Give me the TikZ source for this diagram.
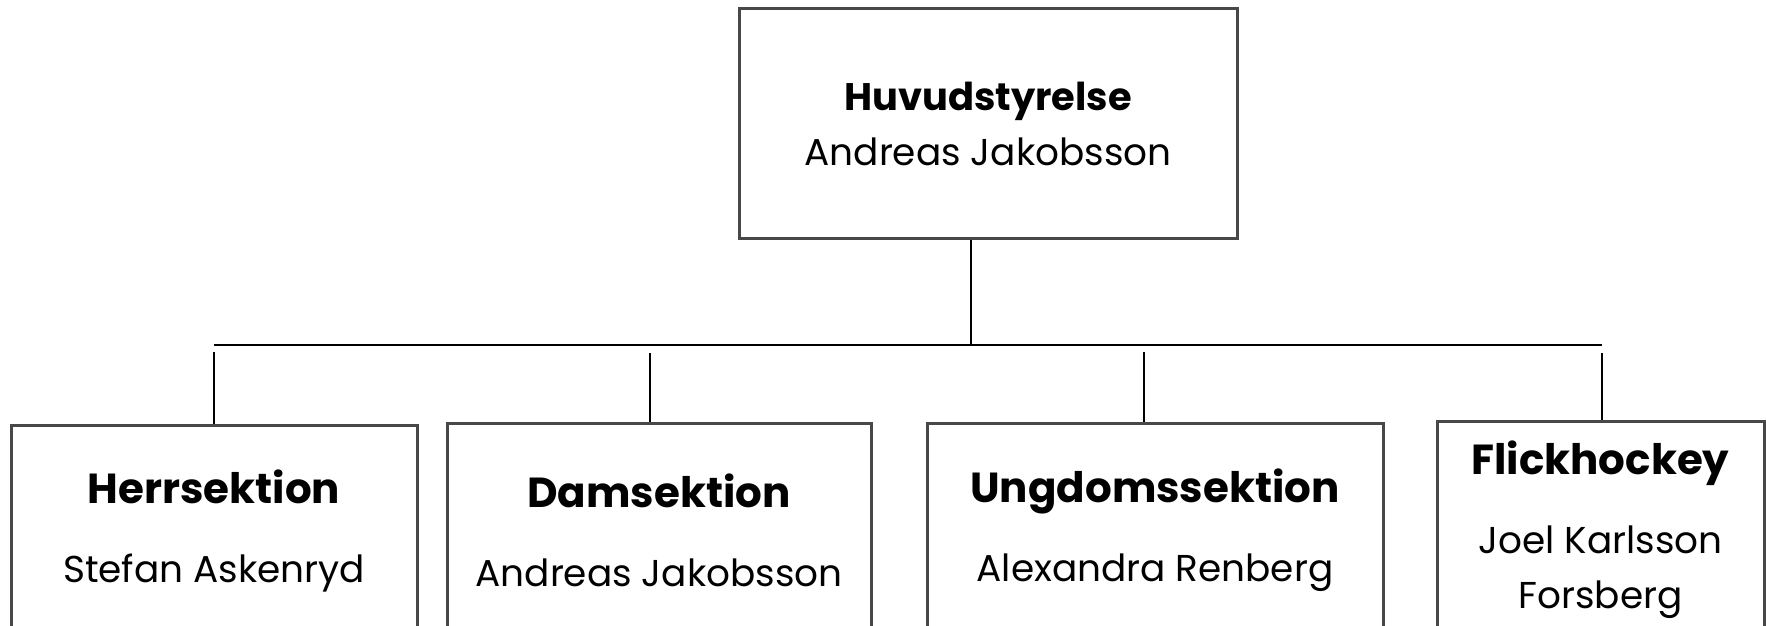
\documentclass[tikz,border=0pt]{standalone}
\usepackage{fontspec}
\setmainfont{Poppins}

\begin{document}
\begin{tikzpicture}[x=0.5pt,y=-0.5pt,
	box/.style={draw=boxgray,line width=1.5pt,align=center,inner sep=0pt,font=\fontsize{18.7}{27.5}\selectfont},
	link/.style={black,line width=0.75pt}]
	\definecolor{boxgray}{RGB}{72,72,72}
	
	\useasboundingbox (0,0) rectangle (1766,626);
	\clip (0,0) rectangle (1766,626);
	
	\node[box,minimum width=249pt,minimum height=114.5pt] (huvud) at (988,123.5) {{\fontsize{19.2}{27.5}\selectfont\bfseries Huvudstyrelse}\\Andreas Jakobsson};
	
	\node[box,minimum width=203pt,minimum height=106pt] (herr) at (214,531) {{\fontsize{21}{28}\selectfont\bfseries Herrsektion}\\[12pt]Stefan Askenryd};
	\node[box,minimum width=212pt,minimum height=107pt] (dam) at (659,530) {{\fontsize{21}{28}\selectfont\bfseries Damsektion}\\[12pt]Andreas Jakobsson};
	\node[box,minimum width=228pt,minimum height=107pt] (ungdom) at (1155,530) {{\fontsize{21}{28}\selectfont\bfseries Ungdomssektion}\\[12pt]Alexandra Renberg};
	\node[box,minimum width=163.5pt,minimum height=109pt] (flick) at (1600.5,530) {{\fontsize{21}{28}\selectfont\bfseries Flickhockey}\\[12pt]Joel Karlsson\\Forsberg};
	
	\coordinate (bus) at (971,345);
	\coordinate (busl) at (214,345);
	\coordinate (busr) at (1602,345);
	\coordinate (d1) at (214,352);
	\coordinate (d2) at (650,353);
	\coordinate (d3) at (1144,352);
	\coordinate (d4) at (1602,353);
	
	\draw[link] (huvud.south -| bus) -- (bus);
	\draw[link] (busl) -- (busr);
	\draw[link] (d1) -- (d1 |- herr.north);
	\draw[link] (d2) -- (d2 |- dam.north);
	\draw[link] (d3) -- (d3 |- ungdom.north);
	\draw[link] (d4) -- (d4 |- flick.north);
	
\end{tikzpicture}
\end{document}
